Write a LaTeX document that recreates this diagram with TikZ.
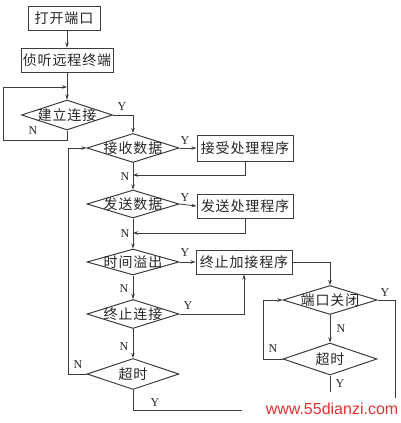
\documentclass[tikz,border=0pt]{standalone}
\usepackage{fontspec}
\setmainfont{Liberation Serif}
\newfontfamily\cjk[LetterSpace=6]{Noto Sans CJK SC}
\newfontfamily\wmfont{Liberation Sans}
\usetikzlibrary{shapes.geometric,arrows.meta}
\definecolor{wmred}{RGB}{225,50,50}
\definecolor{ln}{RGB}{60,60,60}
\begin{document}
\begin{tikzpicture}[x=1pt,y=-1pt,
  color=ln, line width=0.8pt,
  arr/.style={-{Stealth[length=5pt,width=3.5pt]}},
  box/.style={draw=ln,line width=1pt,rectangle,minimum height=24pt,inner sep=0pt,font=\cjk\fontsize{14}{14}\selectfont,text=black!85},
  dt/.style={font=\cjk\fontsize{14}{14}\selectfont,text=black!85,inner sep=0pt},
  dia/.style={draw=ln,line width=1pt,diamond,inner sep=0pt,minimum width=92pt,minimum height=29pt},
  yn/.style={font=\fontsize{12}{12}\selectfont,text=black!85,inner sep=0pt},
]
\useasboundingbox (0,0) rectangle (401,423);

\node[box,minimum width=72pt] (b1) at (64,18) {打开端口};
\node[box,minimum width=92pt] (b2) at (67,60) {侦听远程终端};
\node[dia,minimum width=91pt,minimum height=30pt,label={[dt]center:建立连接}] (d1) at (67,115) {};
\node[dia,label={[dt]center:接收数据}] (d2) at (133,148) {};
\node[box,minimum width=96pt,minimum height=26pt] (p2) at (245,148) {接受处理程序};
\node[dia,minimum height=28pt,label={[dt]center:发送数据}] (d3) at (133,204) {};
\node[box,minimum width=96pt] (p3) at (245,206) {发送处理程序};
\node[dia,minimum height=26pt,label={[dt]center:时间溢出}] (d4) at (133,262) {};
\node[box,minimum width=96pt] (p4) at (244,262) {终止加接程序};
\node[dia,label={[dt]center:终止连接}] (d5) at (133,314) {};
\node[dia,minimum height=31pt,label={[dt]center:超时}] (d6) at (133,374) {};
\node[dia,minimum width=94pt,label={[dt]center:端口关闭}] (d7) at (330,300) {};
\node[dia,minimum width=94pt,minimum height=32pt,label={[dt]center:超时}] (d8) at (330,359) {};

\coordinate (m1) at (67,87);
\coordinate (L1) at (3,140);
\coordinate (j2) at (133,175);
\coordinate (j3) at (133,233);
\coordinate (L2) at (68,374);
\coordinate (L3) at (263,300);
\coordinate (e1) at (242,410);
\coordinate (e2) at (395,398);
\coordinate (e3) at (330,392);

\draw[arr] (b2.north |- b1.south) -- (b2.north);
\draw[arr] (b2.south) -- (d1.north);
\draw[arr] (d1.south) |- (L1) |- (m1);
\draw[arr] (d1.east) -| (d2.north);
\draw[arr] (d2.east) -- (p2.west);
\draw[arr] (p2.south) |- (j2);
\draw[arr] (d2.south) -- (d3.north);
\draw[arr] (d3.east) -- (p3.west);
\draw[arr] (p3.south) |- (j3);
\draw[arr] (d3.south) -- (d4.north);
\draw[arr] (d4.east) -- (p4.west);
\draw[arr] (d4.south) -- (d5.north);
\draw[arr] (d5.east) -| (p4.south);
\draw[arr] (d5.south) -- (d6.north);
\draw[arr] (d6.west) -- (L2) |- (d2.west);
\draw (d6.south) |- (e1);
\draw[arr] (p4.east) -| (d7.north);
\draw (d7.east) -| (e2);
\draw[arr] (d7.south) -- (d8.north);
\draw[arr] (d8.west) -| (L3) -- (d7.west);
\draw (d8.south) -- (e3);

\node[yn] (y1) at (122,107) {Y};
\node[yn] (n1) at (33,131) {N};
\node[yn] (y2) at (185,141) {Y};
\node[yn] (n2) at (125,177) {N};
\node[yn] (y3) at (185,198) {Y};
\node[yn] (n3) at (125,234) {N};
\node[yn] (y4) at (185,253) {Y};
\node[yn] (n4) at (124,289) {N};
\node[yn] (y5) at (188,306) {Y};
\node[yn] (n5) at (124,347) {N};
\node[yn] (n6) at (78,365) {N};
\node[yn] (y6) at (155,403) {Y};
\node[yn] (y7) at (385,293) {Y};
\node[yn] (n7) at (341,329) {N};
\node[yn] (n8) at (273,349) {N};
\node[yn] (y8) at (340,384) {Y};

\node[font=\wmfont\fontsize{16}{16}\selectfont,text=wmred,inner sep=0pt] (wm) at (332,409) {www.55dianzi.com};
\end{tikzpicture}
\end{document}
